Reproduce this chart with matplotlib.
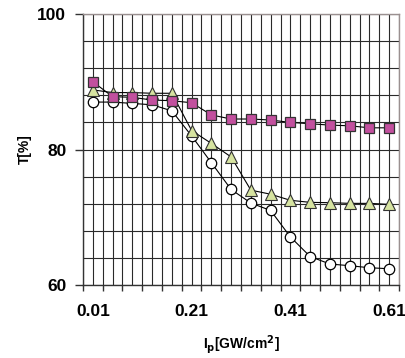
import numpy as np
import matplotlib
matplotlib.use("Agg")
import matplotlib.pyplot as plt

plt.rcParams['font.family'] = ['Liberation Sans', 'DejaVu Sans']

intensity = [0.01, 0.05, 0.09, 0.13, 0.17, 0.21, 0.25, 0.29, 0.33, 0.37,
             0.41, 0.45, 0.49, 0.53, 0.57, 0.61]
t_squares = [90.0, 87.8, 87.7, 87.3, 87.2, 86.9, 85.1, 84.5, 84.5, 84.35,
             84.0, 83.8, 83.6, 83.5, 83.2, 83.2]
t_triangles = [88.8, 88.4, 88.4, 88.3, 88.3, 82.8, 80.9, 78.9, 74.0, 73.4,
               72.5, 72.2, 72.15, 72.05, 72.05, 71.9]
t_circles = [87.0, 87.0, 86.8, 86.6, 85.7, 82.0, 78.05, 74.1, 72.1, 71.0,
             67.1, 64.2, 63.1, 62.85, 62.55, 62.4]

x_ticklabels = ['0.01', '0.21', '0.41', '0.61']
x_labelpos = [0.01, 0.21, 0.41, 0.61]
y_ticks = [60, 80, 100]

fig = plt.figure(figsize=(4.06, 3.58), dpi=100)
ax = fig.add_axes([0.2044, 0.2039, 0.9828 - 0.2044, 0.9609 - 0.2039])

xmin, xmax = -0.01, 0.63
ymin, ymax = 60, 100

# grid
for xv in np.arange(xmin, xmax + 1e-9, 0.02):
    ax.axvline(xv, color='#2a2a2a', lw=0.8, zorder=1)
for yv in np.arange(ymin, ymax + 1e-9, 4):
    ax.axhline(yv, color='#2a2a2a', lw=0.8, zorder=1)

ax.plot(intensity, t_circles, '-', color='black', lw=0.8, marker='o',
        ms=7.5, mfc='white', mec='black', mew=0.9, zorder=3)
ax.plot(intensity, t_triangles, '-', color='black', lw=0.8, marker='^',
        ms=8.5, mfc='#D6E3A0', mec='#333333', mew=0.8, zorder=4)
ax.plot(intensity, t_squares, '-', color='black', lw=0.8, marker='s',
        ms=7.5, mfc='#C2509E', mec='#333333', mew=0.9, zorder=5)

ax.set_xlim(xmin, xmax)
ax.set_ylim(ymin, ymax)

ax.set_xticks(np.arange(xmin, xmax + 1e-9, 0.04))
ax.set_xticklabels([])
ax.tick_params(axis='x', which='major', direction='out', length=4,
               width=1.0, color='#333333')
ax.set_xticks(x_labelpos, minor=True)
ax.set_xticklabels(x_ticklabels, minor=True, fontsize=12.5, fontweight='bold')
ax.tick_params(axis='x', which='minor', length=0, pad=14)

ax.set_yticks(y_ticks)
ax.set_yticklabels([str(v) for v in y_ticks], fontsize=12.5, fontweight='bold')
ax.tick_params(axis='y', direction='out', length=6, width=1.0,
               color='#333333', pad=6)

for s in ['left', 'bottom']:
    ax.spines[s].set_color('#333333')
    ax.spines[s].set_linewidth(1.0)
for s in ['top', 'right']:
    ax.spines[s].set_color('#9a9090')
    ax.spines[s].set_linewidth(1.0)

ax.set_ylabel('T[%]', fontsize=10, fontweight='bold', labelpad=4)
ax.set_xlabel(r'I$_{\mathbf{p}}$[GW/cm$^{\mathbf{2}}$]', fontsize=10,
              fontweight='bold', labelpad=10)

fig.savefig('out.png', dpi=100)
